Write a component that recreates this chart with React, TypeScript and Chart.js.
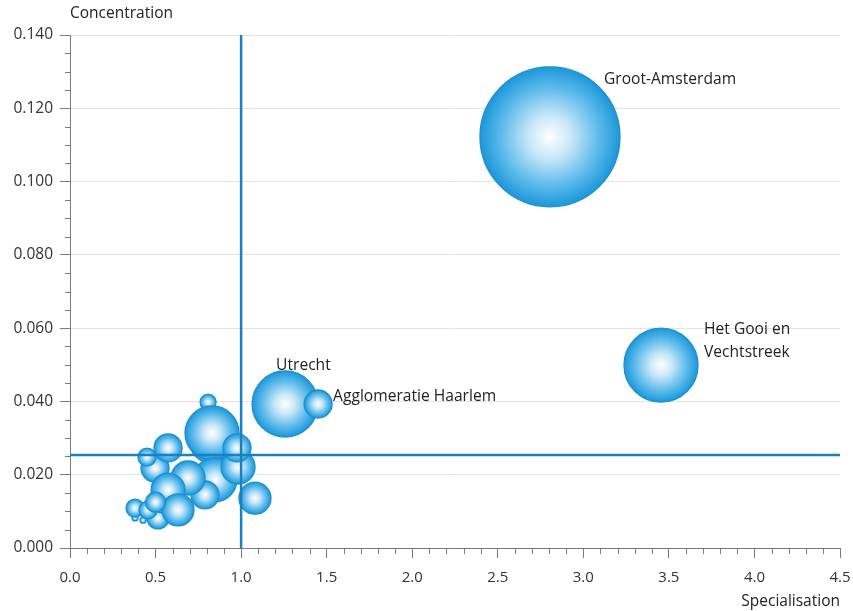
import React, { useEffect, useRef } from "react";
import { Chart, registerables } from "chart.js";

Chart.register(...registerables);

// Region data: specialisation (x), concentration (y), bubble size (radius in px)
const regions = [
  "", "", "", "", "", "", "", "", "", "", "", "", "", "", "", "", "", "", "", "", "",
  "Utrecht", "Agglomeratie Haarlem", "Groot-Amsterdam", "Het Gooi en Vechtstreek",
];
const specialisation = [
  0.807, 0.836, 0.83, 0.847, 0.789, 0.69, 0.497, 0.45, 0.573, 0.573, 0.514, 0.38, 0.427, 0.38, 0.456, 0.538, 0.631, 0.982, 0.976, 1.081, 0.5,
  1.257, 1.45, 2.805, 3.454,
];
const concentration = [
  0.0398, 0.0295, 0.0314, 0.0186, 0.0145, 0.0191, 0.0218, 0.0248, 0.0273, 0.0158, 0.0082, 0.0082, 0.0076, 0.0109, 0.0104, 0.0112, 0.0104, 0.0221, 0.0273, 0.0136, 0.0125,
  0.0393, 0.0393, 0.1122, 0.0499,
];
const bubbleSize = [
  8, 24, 27, 22, 14, 17, 14, 9, 14, 17, 11, 3, 3, 9, 9, 6, 16, 17, 14, 16, 10,
  33, 14, 70, 37,
];

// Threshold reference lines
const specialisationThreshold = 1.0;
const concentrationThreshold = 0.0254;

// Axis ranges / ticks
const xMin = 0, xMax = 4.5, xStep = 0.5, xMinor = 0.1;
const yMin = 0, yMax = 0.14, yStep = 0.02, yMinor = 0.005;

// Label text lines and their offsets relative to bubble centre
const labelLayout: Record<string, { lines: string[]; dx: number; dy: number }> = {
  "Groot-Amsterdam": { lines: ["Groot-Amsterdam"], dx: 54, dy: -57 },
  "Het Gooi en Vechtstreek": { lines: ["Het Gooi en", "Vechtstreek"], dx: 43, dy: -36 },
  Utrecht: { lines: ["Utrecht"], dx: -9, dy: -38 },
  "Agglomeratie Haarlem": { lines: ["Agglomeratie Haarlem"], dx: 15, dy: -7 },
};

const FONT = "'Open Sans', 'Noto Sans', sans-serif";
const LINE_BLUE = "#1b7fc1";

const extrasPlugin = {
  id: "extras",
  afterDraw(chart: any) {
    const { ctx, scales, chartArea } = chart;
    const xs = scales.x, ys = scales.y;
    ctx.save();
    // minor ticks
    ctx.strokeStyle = "#7a7a7a";
    ctx.lineWidth = 1;
    ctx.beginPath();
    for (let i = 0; i <= Math.round((yMax - yMin) / yMinor); i++) {
      const v = yMin + i * yMinor;
      if (i % Math.round(yStep / yMinor) === 0) continue;
      const py = Math.round(ys.getPixelForValue(v)) + 0.5;
      ctx.moveTo(chartArea.left - 5, py);
      ctx.lineTo(chartArea.left, py);
    }
    for (let i = 0; i <= Math.round((xMax - xMin) / xMinor); i++) {
      const v = xMin + i * xMinor;
      if (i % Math.round(xStep / xMinor) === 0) continue;
      const px = Math.round(xs.getPixelForValue(v)) + 0.5;
      ctx.moveTo(px, chartArea.bottom);
      ctx.lineTo(px, chartArea.bottom + 6);
    }
    ctx.stroke();

    // axis titles
    ctx.fillStyle = "#222";
    ctx.font = `15.5px ${FONT}`;
    ctx.textBaseline = "middle";
    ctx.textAlign = "left";
    ctx.fillText("Concentration", chartArea.left, 14);
    ctx.textAlign = "right";
    ctx.fillText("Specialisation", chartArea.right, 602);

    // bubble labels
    ctx.font = `15.6px ${FONT}`;
    ctx.textAlign = "left";
    regions.forEach((name, i) => {
      const lay = labelLayout[name];
      if (!lay) return;
      const px = xs.getPixelForValue(specialisation[i]);
      const py = ys.getPixelForValue(concentration[i]);
      lay.lines.forEach((ln, k) => {
        ctx.fillText(ln, px + lay.dx, py + lay.dy + k * 23);
      });
    });
    ctx.restore();
  },
};

function bubbleFill(c: any) {
  const chart = c.chart;
  const raw = c.raw;
  if (!raw || !chart.scales || !chart.scales.x || !chart.scales.y) return "#5dbbec";
  const px = chart.scales.x.getPixelForValue(raw.x);
  const py = chart.scales.y.getPixelForValue(raw.y);
  const r = Math.max(raw.r, 1);
  if (!isFinite(px) || !isFinite(py) || !isFinite(r)) return "#5dbbec";
  const g = chart.ctx.createRadialGradient(px, py, 0, px, py, r);
  g.addColorStop(0, "#ffffff");
  g.addColorStop(0.3, "#c9e8f9");
  g.addColorStop(0.7, "#5dbbec");
  g.addColorStop(1, "#1c97d8");
  return g;
}

export default function App() {
  const ref = useRef<HTMLCanvasElement | null>(null);
  useEffect(() => {
    document.body.style.margin = "0";
    const canvas = ref.current;
    if (!canvas) return;
    const bubbles = specialisation.map((x, i) => ({ x, y: concentration[i], r: bubbleSize[i] }));
    const chart = new Chart(canvas, {
      type: "bubble",
      data: {
        datasets: [
          {
            type: "line" as any,
            data: [
              { x: xMin, y: concentrationThreshold },
              { x: xMax, y: concentrationThreshold },
            ],
            borderColor: LINE_BLUE,
            borderWidth: 2.5,
            pointRadius: 0,
            order: 0,
          } as any,
          {
            type: "line" as any,
            data: [
              { x: specialisationThreshold, y: yMin },
              { x: specialisationThreshold, y: yMax },
            ],
            borderColor: LINE_BLUE,
            borderWidth: 2.5,
            pointRadius: 0,
            order: 0,
          } as any,
          {
            data: bubbles,
            backgroundColor: bubbleFill,
            borderColor: "#1a8fd2",
            borderWidth: 1.3,
            order: 1,
          } as any,
        ],
      },
      options: {
        responsive: false,
        animation: false,
        events: [],
        layout: { autoPadding: false, padding: { left: 0, top: 35, right: 13, bottom: 0 } },
        plugins: { legend: { display: false }, tooltip: { enabled: false } },
        scales: {
          x: {
            type: "linear",
            min: xMin,
            max: xMax,
            afterFit: (s: any) => { s.height = 63; s.paddingLeft = 0; s.paddingRight = 0; },
            ticks: {
              stepSize: xStep,
              padding: 11,
              color: "#333",
              font: { family: FONT, size: 15 },
              callback: (v: any) => Number(v).toFixed(1),
            },
            grid: { drawOnChartArea: false, tickLength: 10, tickColor: "#7a7a7a" },
            border: { color: "#7a7a7a", width: 1 },
          },
          y: {
            type: "linear",
            min: yMin,
            max: yMax,
            afterFit: (s: any) => { s.width = 70; s.paddingTop = 0; s.paddingBottom = 0; },
            ticks: {
              stepSize: yStep,
              padding: 7,
              color: "#333",
              font: { family: FONT, size: 15.5 },
              callback: (v: any) => Number(v).toFixed(3),
            },
            grid: { color: "#e3e3e3", tickLength: 10, tickColor: "#7a7a7a" },
            border: { color: "#7a7a7a", width: 1 },
          },
        },
      },
      plugins: [extrasPlugin],
    });
    return () => chart.destroy();
  }, []);
  return (
    <div style={{ width: 853, height: 611 }}>
      <canvas ref={ref} width={853} height={611} />
    </div>
  );
}
